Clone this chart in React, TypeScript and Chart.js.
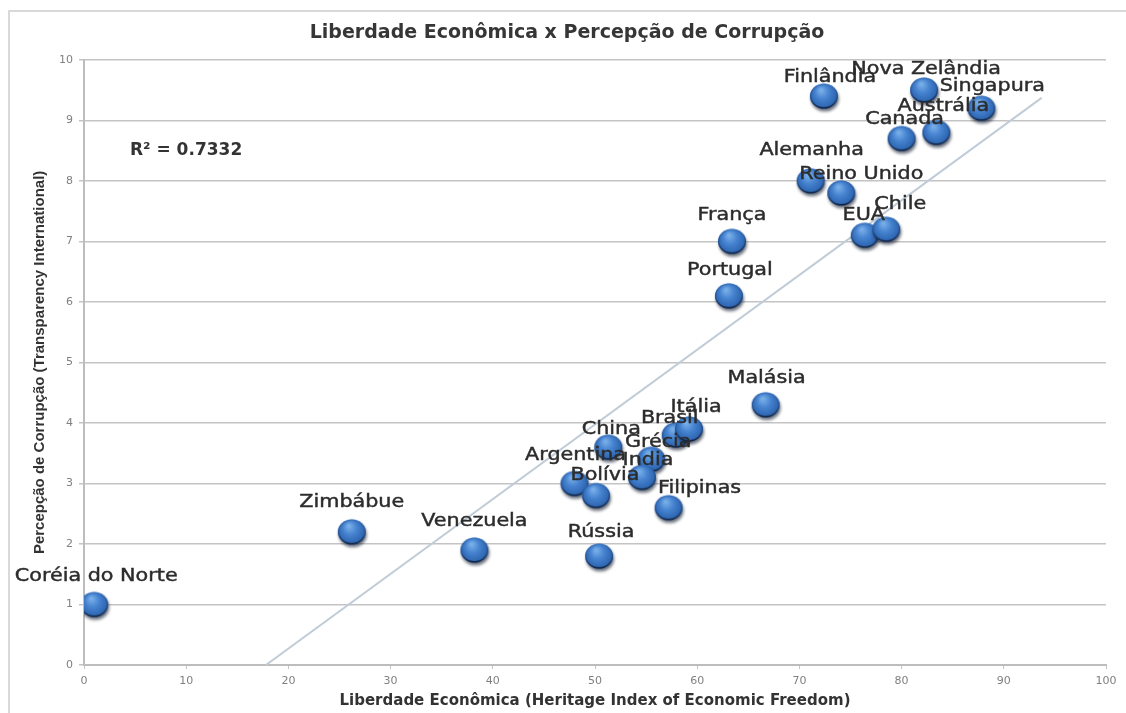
import React, { useEffect, useRef } from 'react';
import { Chart, registerables } from 'chart.js';

Chart.register(...registerables);

// ---------- data ----------
const countries = [
  'Coréia do Norte', 'Zimbábue', 'Venezuela', 'Rússia', 'Argentina', 'Bolívia',
  'China', 'Grécia', 'India', 'Filipinas', 'Brasil', 'Itália', 'Malásia',
  'Portugal', 'França', 'Alemanha', 'Reino Unido', 'EUA', 'Chile', 'Finlândia',
  'Canada', 'Austrália', 'Nova Zelândia', 'Singapura',
];
const freedom = [
  1.0, 26.2, 38.2, 50.4, 48.0, 50.1,
  51.3, 55.5, 54.6, 57.2, 57.9, 59.2, 66.7,
  63.1, 63.4, 71.1, 74.1, 76.4, 78.5, 72.4,
  80.0, 83.4, 82.2, 87.8,
];
const corruption = [
  1.0, 2.2, 1.9, 1.8, 3.0, 2.8,
  3.6, 3.4, 3.1, 2.6, 3.8, 3.9, 4.3,
  6.1, 7.0, 8.0, 7.8, 7.1, 7.2, 9.4,
  8.7, 8.8, 9.5, 9.2,
];
const trendX = [17.8, 93.7];
const trendY = [0, 9.37];
const xTickValues = [0, 10, 20, 30, 40, 50, 60, 70, 80, 90, 100];
const yTickValues = [0, 1, 2, 3, 4, 5, 6, 7, 8, 9, 10];
const r2Label = 'R² = 0.7332';
const r2Anchor = { x: 4.5, y: 8.5 };

const chartTitle = 'Liberdade Econômica x Percepção de Corrupção';
const xTitle = 'Liberdade Econômica (Heritage Index of Economic Freedom)';
const yTitle = 'Percepção de Corrupção (Transparency International)';

// label nudges (pixels, relative to bubble centre) – layout only
const labelOffsets: Record<string, [number, number]> = {
  'Coréia do Norte': [2, -28],
  'Zimbábue': [0, -30],
  'Venezuela': [0, -29],
  'Rússia': [2, -24],
  'Argentina': [1, -28],
  'Bolívia': [9, -20],
  'China': [3, -18],
  'Grécia': [7, -17],
  'India': [6, -17],
  'Filipinas': [31, -19],
  'Brasil': [-6, -17],
  'Itália': [7, -22],
  'Malásia': [1, -26],
  'Portugal': [1, -25],
  'França': [0, -26],
  'Alemanha': [1, -31],
  'Reino Unido': [20, -19],
  'EUA': [-1, -20],
  'Chile': [14, -25],
  'Finlândia': [6, -19],
  'Canada': [3, -19],
  'Austrália': [7, -26],
  'Nova Zelândia': [2, -21],
  'Singapura': [11, -22],
};

function makeSphere(): HTMLCanvasElement {
  const c = document.createElement('canvas');
  c.width = 38;
  c.height = 38;
  const ctx = c.getContext('2d')!;
  const cx = 19, cy = 19, rx = 14, ry = 12.5;
  // shadow
  ctx.save();
  ctx.filter = 'blur(1.6px)';
  ctx.fillStyle = 'rgba(10,20,40,0.6)';
  ctx.beginPath();
  ctx.ellipse(cx + 1, cy + 2.8, rx, ry, 0, 0, Math.PI * 2);
  ctx.fill();
  ctx.restore();
  // body
  const g = ctx.createRadialGradient(cx - 3, cy - 6, 1, cx, cy - 1, 16);
  g.addColorStop(0, '#78aee8');
  g.addColorStop(0.4, '#4683d0');
  g.addColorStop(0.78, '#3068b3');
  g.addColorStop(1, '#1c3c6c');
  ctx.fillStyle = g;
  ctx.beginPath();
  ctx.ellipse(cx, cy, rx, ry, 0, 0, Math.PI * 2);
  ctx.fill();
  // dark bottom rim
  const lg = ctx.createLinearGradient(0, cy - ry, 0, cy + ry);
  lg.addColorStop(0, 'rgba(50,105,180,0.5)');
  lg.addColorStop(0.55, 'rgba(30,70,130,0.5)');
  lg.addColorStop(1, 'rgba(14,32,64,1)');
  ctx.strokeStyle = lg;
  ctx.lineWidth = 1.5;
  ctx.beginPath();
  ctx.ellipse(cx, cy, rx - 0.7, ry - 0.7, 0, 0, Math.PI * 2);
  ctx.stroke();
  return c;
}

const labelsPlugin = {
  id: 'countryLabels',
  afterDatasetsDraw(chart: any) {
    const meta = chart.getDatasetMeta(0);
    const ctx = chart.ctx as CanvasRenderingContext2D;
    ctx.save();
    ctx.font = '18px "DejaVu Sans"';
    ctx.textAlign = 'center';
    ctx.textBaseline = 'middle';
    ctx.fillStyle = '#2c2c2c';
    ctx.strokeStyle = '#2c2c2c';
    ctx.lineWidth = 0.45;
    meta.data.forEach((el: any, i: number) => {
      const name = countries[i];
      const off = labelOffsets[name] || [0, -25];
      ctx.save();
      ctx.translate(el.x + off[0], el.y + off[1]);
      ctx.scale(1.15, 1);
      ctx.fillText(name, 0, 0);
      ctx.strokeText(name, 0, 0);
      ctx.restore();
    });
    // R² annotation
    const xs = chart.scales.x, ys = chart.scales.y;
    ctx.font = 'bold 17px "DejaVu Sans"';
    ctx.textAlign = 'left';
    ctx.fillStyle = '#333333';
    ctx.fillText(r2Label, xs.getPixelForValue(r2Anchor.x), ys.getPixelForValue(r2Anchor.y));
    ctx.restore();
  },
};

export default function App() {
  const ref = useRef<HTMLCanvasElement | null>(null);
  useEffect(() => {
    if (!ref.current) return;
    const sphere = makeSphere();
    const chart = new Chart(ref.current, {
      type: 'scatter',
      data: {
        datasets: [
          {
            label: 'Países',
            data: freedom.map((x, i) => ({ x, y: corruption[i] })),
            pointStyle: sphere as any,
            pointRadius: 14,
            pointHoverRadius: 14,
          },
          {
            label: 'Tendência',
            type: 'line',
            data: trendX.map((x, i) => ({ x, y: trendY[i] })),
            borderColor: '#c0ccd8',
            borderWidth: 2,
            pointRadius: 0,
            showLine: true,
            fill: false,
          } as any,
        ],
      },
      options: {
        animation: false,
        responsive: false,
        events: [],
        layout: { padding: { left: 28, right: 20, top: 0, bottom: 0 } },
        plugins: {
          legend: { display: false },
          tooltip: { enabled: false },
          title: {
            display: true,
            text: chartTitle,
            color: '#363636',
            font: { family: 'DejaVu Sans', size: 19, weight: 'bold' },
            padding: { top: 22, bottom: 15 },
          },
        },
        scales: {
          x: {
            type: 'linear',
            min: 0,
            max: 100,
            afterFit: (s: any) => { s.height = 48; },
            afterBuildTicks: (s: any) => { s.ticks = xTickValues.map((v) => ({ value: v })); },
            ticks: {
              color: '#808080',
              font: { family: 'DejaVu Sans', size: 11 },
              padding: 6,
            },
            grid: {
              drawOnChartArea: false,
              drawTicks: true,
              tickLength: 4,
              color: '#c4c4c4',
            },
            border: { display: true, color: '#bdbdbd', width: 2 },
            title: {
              display: true,
              text: xTitle,
              color: '#333333',
              font: { family: 'DejaVu Sans', size: 15, weight: 'bold' },
              padding: { top: 4, bottom: 3 },
            },
          },
          y: {
            type: 'linear',
            min: 0,
            max: 10,
            afterFit: (s: any) => { s.width = 56; },
            afterBuildTicks: (s: any) => { s.ticks = yTickValues.map((v) => ({ value: v })); },
            ticks: {
              color: '#808080',
              font: { family: 'DejaVu Sans', size: 11 },
              padding: 6,
            },
            grid: {
              color: '#c4c4c4',
              lineWidth: 1.5,
              drawTicks: true,
              tickLength: 5,
            },
            border: { display: true, color: '#bdbdbd', width: 2 },
            title: {
              display: true,
              text: yTitle,
              color: '#333333',
              font: { family: 'Liberation Sans', size: 15, weight: 'bold' },
              padding: { top: 3, bottom: 4 },
            },
          },
        },
      },
      plugins: [labelsPlugin],
    });
    return () => chart.destroy();
  }, []);

  return (
    <div style={{ position: 'fixed', left: 0, top: 0, width: 1126, height: 713, background: '#ffffff', overflow: 'hidden' }}>
      <div style={{ position: 'absolute', left: 8, top: 10, width: 1160, height: 760, border: '2px solid #d9d9d9' }} />
      <canvas ref={ref} width={1126} height={713} style={{ position: 'absolute', left: 0, top: 0, width: 1126, height: 713 }} />
    </div>
  );
}
